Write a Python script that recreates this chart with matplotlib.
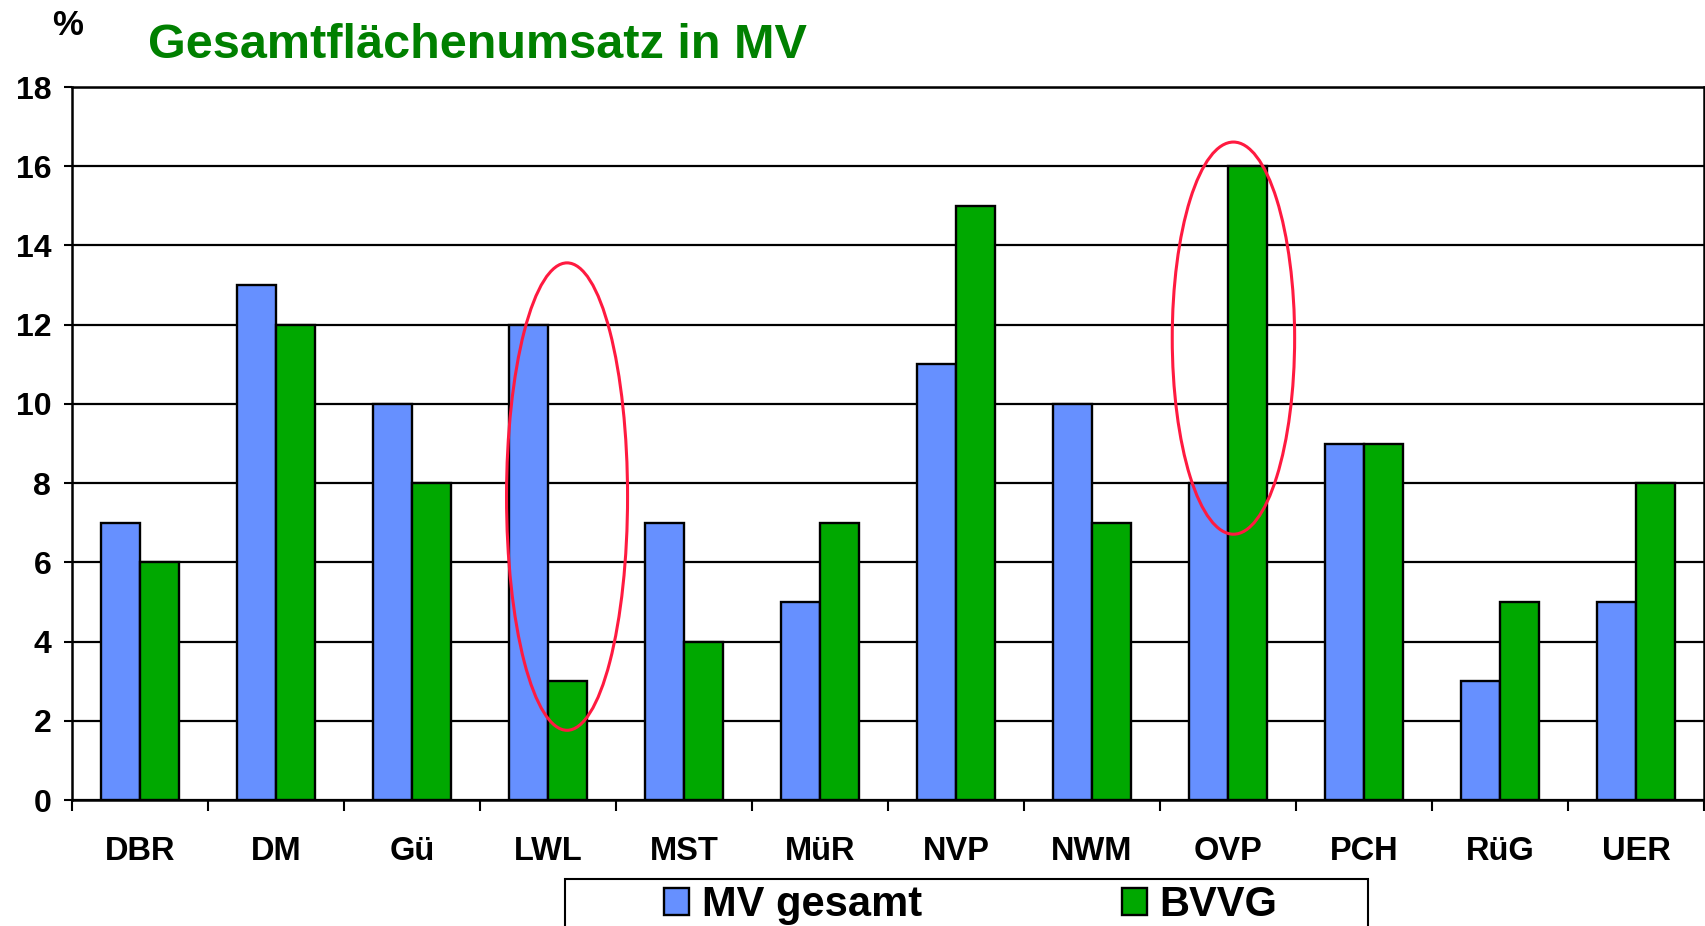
import matplotlib.pyplot as plt
import numpy as np
from matplotlib.patches import Ellipse, Rectangle

plt.rcParams['font.family'] = ['Liberation Sans', 'DejaVu Sans']
plt.rcParams['font.weight'] = 'bold'

# Kreise / Kategorien
kreise = ['DBR', 'DM', 'Gü', 'LWL', 'MST', 'MüR', 'NVP', 'NWM', 'OVP', 'PCH', 'RüG', 'UER']
mv_gesamt = [7, 13, 10, 12, 7, 5, 11, 10, 8, 9, 3, 5]
bvvg = [6, 12, 8, 3, 4, 7, 15, 7, 16, 9, 5, 8]
y_ticks = list(range(0, 19, 2))

# Markierungen (Kategorie, x-Versatz, y-Mitte, Breite, Höhe)
markierungen = [
    ('LWL', 0.14, 7.66, 0.89, 11.8),
    ('OVP', 0.04, 11.66, 0.90, 9.9),
]

blau = '#6690FF'
gruen = '#00A800'

fig = plt.figure(figsize=(17.05, 9.26), dpi=100)
ax = fig.add_axes([72 / 1705, 126 / 926, 1632 / 1705, 713 / 926])

x = np.arange(len(kreise))
w = 0.29
ax.bar(x - w / 2, mv_gesamt, w, color=blau, edgecolor='black', linewidth=1.7,
       zorder=3, label='MV gesamt')
ax.bar(x + w / 2, bvvg, w, color=gruen, edgecolor='black', linewidth=1.7,
       zorder=3, label='BVVG')

# Achsen
ax.set_xlim(-0.5, len(kreise) - 0.5)
ax.set_ylim(0, 18)
ax.set_yticks(y_ticks)
ax.set_yticklabels([str(v) for v in y_ticks], fontsize=23, fontweight='bold')
ax.tick_params(axis='y', length=6, width=1.5, pad=9)
ax.set_xticks(x)
ax.set_xticklabels(kreise, fontsize=23.5, fontweight='bold')
ax.tick_params(axis='x', which='major', length=0, pad=26)
ax.set_xticks(np.arange(len(kreise) + 1) - 0.5, minor=True)
ax.tick_params(axis='x', which='minor', length=8, width=1.5, direction='out')

ax.yaxis.grid(True, color='black', linewidth=1.6, zorder=0)
ax.set_axisbelow(True)
for s in ax.spines.values():
    s.set_linewidth(1.8)
    s.set_color('black')

# rote Ellipsen
for name, dx, yc, ew, eh in markierungen:
    i = kreise.index(name)
    ax.add_patch(Ellipse((i + dx, yc), ew, eh, fill=False, edgecolor='#FF1A40',
                         linewidth=2.2, zorder=5, clip_on=False))

# Titel
fig.text(148 / 1705, 1 - 58 / 926, 'Gesamtflächenumsatz in MV', color='#008000',
         fontsize=35, fontweight='bold', va='baseline', ha='left')
fig.text(68 / 1705, 1 - 35 / 926, '%', fontsize=25, fontweight='bold',
         va='baseline', ha='center')

# Legende
fig.patches.append(Rectangle((565 / 1705, -0.02), 803 / 1705, 0.02 + 47 / 926,
                             transform=fig.transFigure, fill=False,
                             edgecolor='black', linewidth=1.5))
fig.legend(loc='center', bbox_to_anchor=(971 / 1705, 21 / 926), ncol=2,
           frameon=False, handlelength=0.6, handleheight=0.6,
           handletextpad=0.3, columnspacing=4.8, borderpad=0,
           prop={'weight': 'bold', 'size': 30})

fig.savefig('out.png', dpi=100)
